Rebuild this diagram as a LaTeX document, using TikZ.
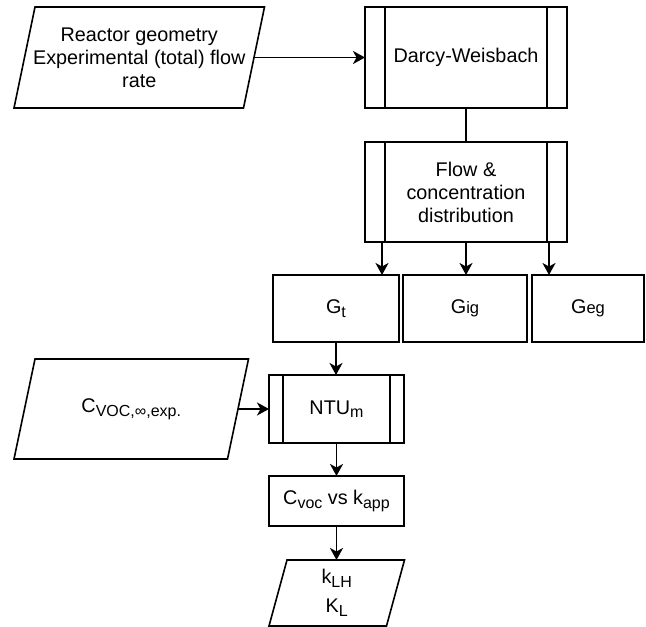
\documentclass[tikz,border=0pt]{standalone}
\usepackage{fontspec}
\setmainfont{Liberation Sans}
\usetikzlibrary{arrows.meta}
\newcommand\sbs[1]{\raisebox{-3.5pt}{\fontsize{16}{16}\selectfont #1}}
\newcommand\smalltxt[1]{{\fontsize{16.5}{16.5}\selectfont #1}}
\begin{document}
\begin{tikzpicture}[x=1pt,y=-1pt,
  line/.style={line width=1.6pt, draw=black},
  conn/.style={line width=1.8pt, draw=black},
  base/.style={line width=1.6pt, font=\fontsize{19.8}{23}\selectfont, align=center, inner sep=0pt, outer sep=0pt},
  box/.style={base, rectangle, draw=black},
  proc/.style={box, path picture={
      \draw[line width=1.6pt] ([xshift=#1]path picture bounding box.north west) -- ([xshift=#1]path picture bounding box.south west)
                              ([xshift=-#1]path picture bounding box.north east) -- ([xshift=-#1]path picture bounding box.south east);}},
  io/.style={base, draw=none},
  arr/.style={conn, -{Stealth[length=12pt,width=13pt,inset=3.5pt]}},
]
\useasboundingbox (0,0) rectangle (646,627);

% input parallelogram 1
\node[io, minimum width=229.5pt, minimum height=101pt] (p1) at (139.25,57.5) {Reactor geometry\\Experimental (total) flow\\rate};
\draw[line] ([xshift=-10.5pt]p1.south west) -- ([xshift=10.5pt]p1.north west) -- ([xshift=10.5pt]p1.north east) -- ([xshift=-10.5pt]p1.south east) -- cycle;

\node[proc=20pt, minimum width=202pt, minimum height=101pt] (dw) at (466,57.5) {Darcy-Weisbach};
\node[proc=20pt, minimum width=202pt, minimum height=100pt] (fl) at (466,192) {Flow \&\\concentration\\distribution};

\node[box, minimum width=126pt, minimum height=67pt] (gt) at (336,308.5) {G\sbs{t}};
\node[box, minimum width=124pt, minimum height=67pt] (gig) at (465,308.5) {G\smalltxt{ig}};
\node[box, minimum width=112pt, minimum height=67pt] (geg) at (588,308.5) {G\smalltxt{eg}};

% input parallelogram 2
\node[io, minimum width=213.5pt, minimum height=100pt] (p2) at (131.25,409) {C\sbs{VOC,∞,exp.}};
\draw[line] ([xshift=-10.5pt]p2.south west) -- ([xshift=10.5pt]p2.north west) -- ([xshift=10.5pt]p2.north east) -- ([xshift=-10.5pt]p2.south east) -- cycle;

\node[proc=14pt, minimum width=135pt, minimum height=68pt] (ntu) at (336.5,409) {NTU\sbs{m}};
\node[box, minimum width=135pt, minimum height=50pt] (cvk) at (336.5,501) {C\sbs{voc} vs k\sbs{app}};

% output parallelogram
\node[io, minimum width=117.5pt, minimum height=66pt] (out) at (336.75,593) {k\sbs{LH}\\[6pt]K\sbs{L}};
\draw[line] ([xshift=-9pt]out.south west) -- ([xshift=9pt]out.north west) -- ([xshift=9pt]out.north east) -- ([xshift=-9pt]out.south east) -- cycle;

% connectors
\coordinate (f1) at ([xshift=-84pt]fl.south);
\coordinate (f3) at ([xshift=83pt]fl.south);
\draw[arr] (p1.east) -- (dw.west);
\draw[conn] (dw.south) -- (fl.north);
\draw[arr] (f1) -- (f1 |- gt.north);
\draw[arr] (fl.south) -- (fl.south |- gig.north);
\draw[arr] (f3) -- (f3 |- geg.north);
\draw[arr] (gt.south) -- (gt.south |- ntu.north);
\draw[arr] (p2.east) -- (ntu.west);
\draw[arr] (ntu.south) -- (cvk.north);
\draw[arr] (cvk.south) -- (cvk.south |- out.north);
\end{tikzpicture}
\end{document}
